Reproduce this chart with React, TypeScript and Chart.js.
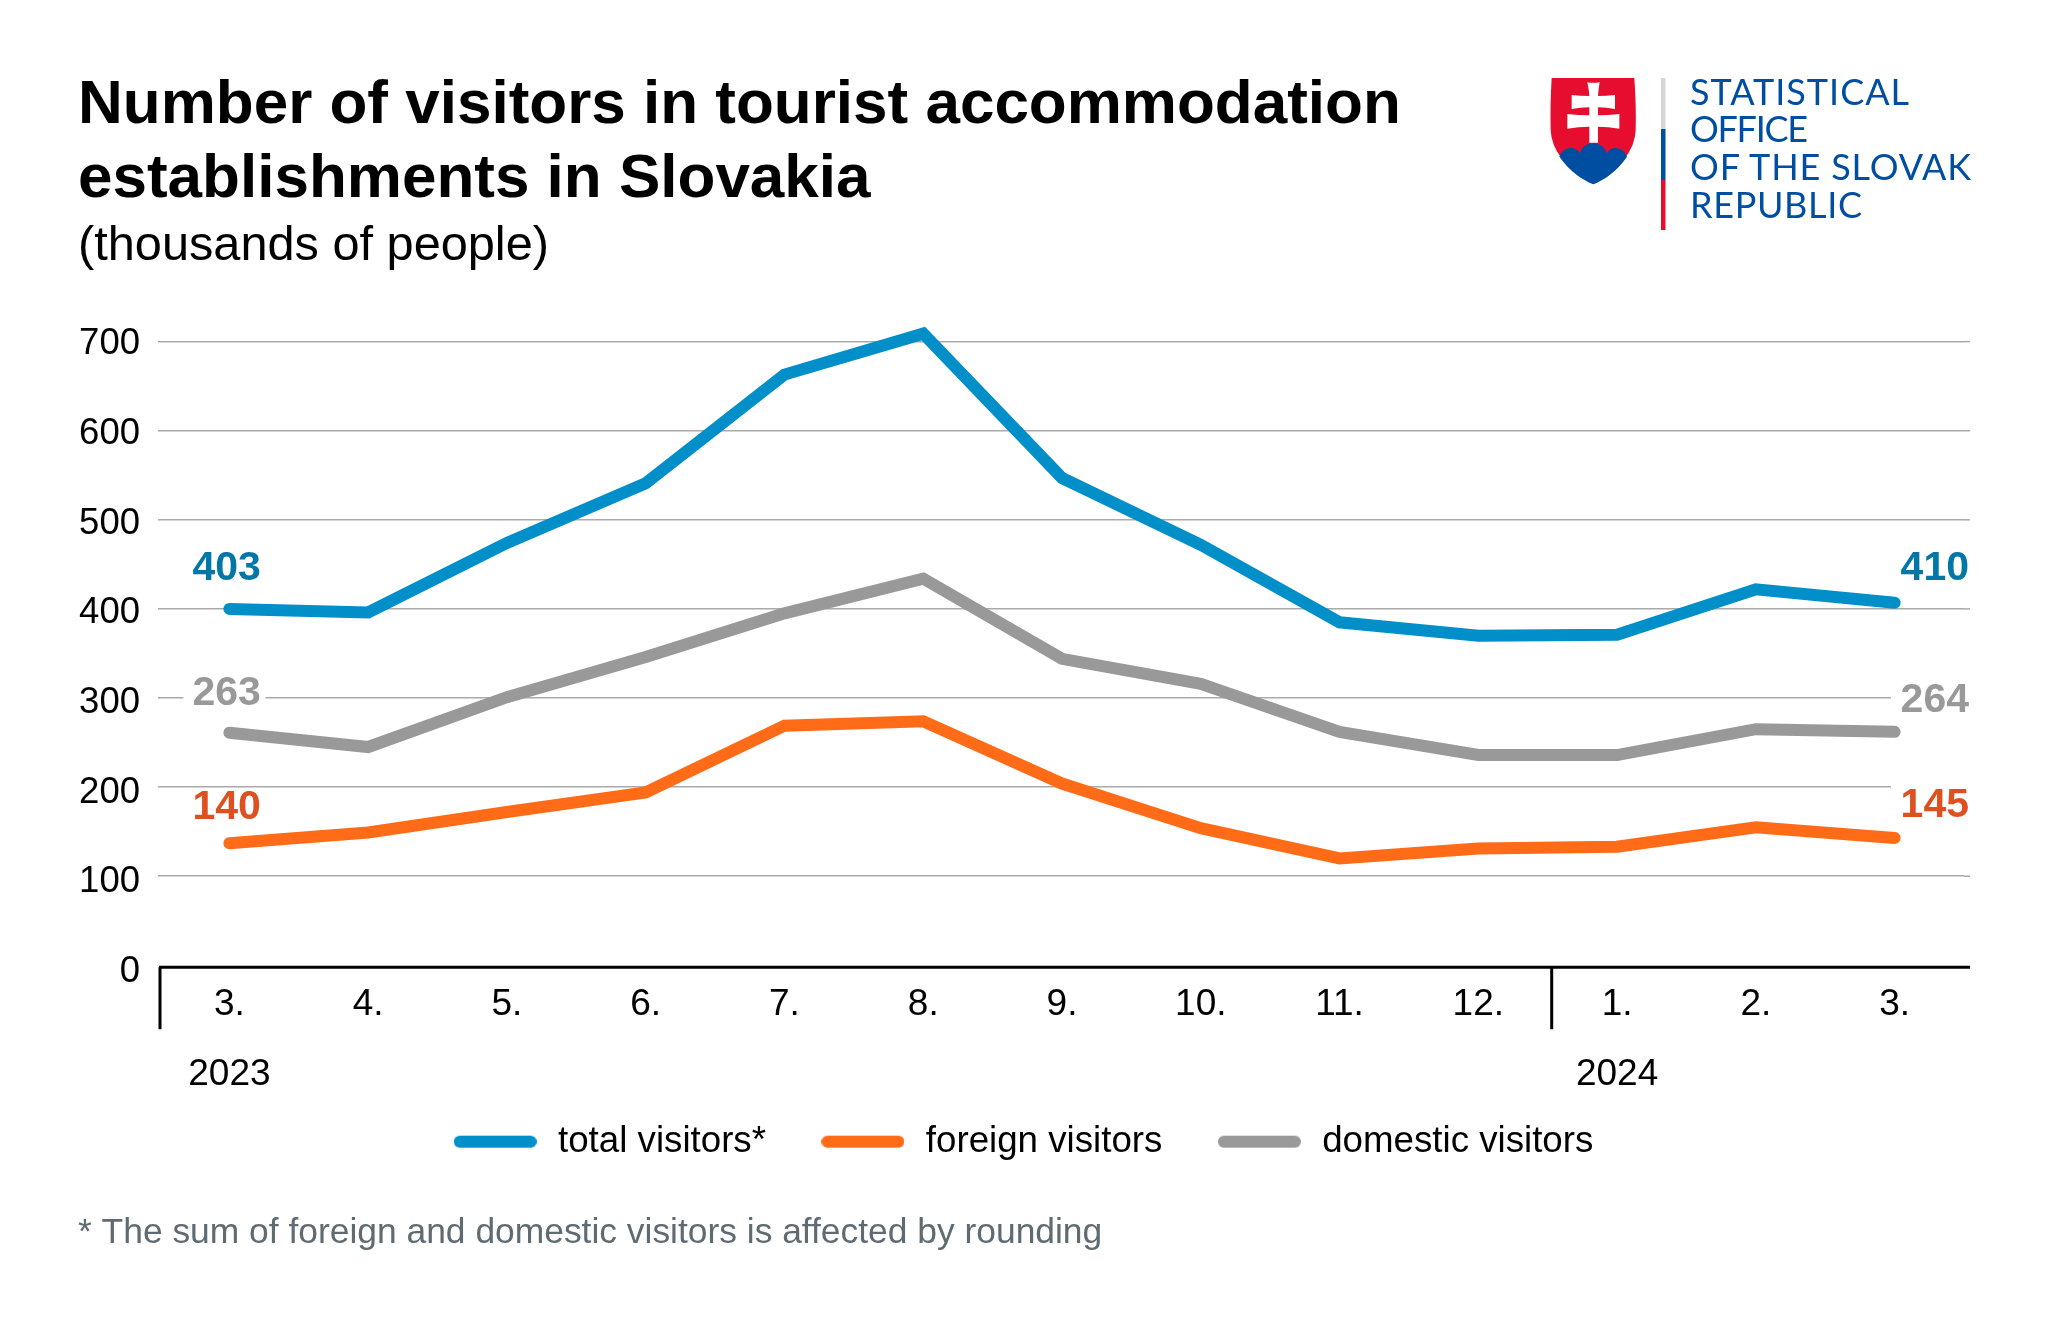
import React, { useEffect, useRef } from "react";
import { Chart, registerables } from "chart.js";

Chart.register(...registerables);

const months = ["3.", "4.", "5.", "6.", "7.", "8.", "9.", "10.", "11.", "12.", "1.", "2.", "3."];
const years = ["2023", "", "", "", "", "", "", "", "", "", "2024", "", ""];
const totalVisitors = [400, 396, 474, 541, 663, 709, 547, 472, 385, 370, 371, 422, 407];
const foreignVisitors = [137, 149, 172, 194, 269, 274, 204, 154, 120, 131, 133, 155, 143];
const domesticVisitors = [261, 245, 301, 346, 395, 434, 344, 316, 262, 236, 236, 265, 262];
const endLabels = [
  { series: 0, left: "403", right: "410", color: "#0077a7", leftDy: -40, rightDy: -33.8, box: false },
  { series: 2, left: "263", right: "264", color: "#999999", leftDy: -38.7, rightDy: -31.2, box: true },
  { series: 1, left: "140", right: "145", color: "#de5020", leftDy: -35.5, rightDy: -32.2, box: false },
];
const titleLines = ["Number of visitors in tourist accommodation", "establishments in Slovakia"];
const subtitleText = "(thousands of people)";
const footnote = "* The sum of foreign and domestic visitors is affected by rounding";
const logoLines = ["STATISTICAL", "OFFICE", "OF THE SLOVAK", "REPUBLIC"];

const FONT = '"Liberation Sans", Arial, sans-serif';
const COLORS = { total: "#008fc8", foreign: "#ff6b17", domestic: "#999999" };

function legendLine(color: string) {
  const c = document.createElement("canvas");
  c.width = 83;
  c.height = 14;
  const x = c.getContext("2d")!;
  x.strokeStyle = color;
  x.lineWidth = 12;
  x.lineCap = "round";
  x.beginPath();
  x.moveTo(6, 7);
  x.lineTo(77, 7);
  x.stroke();
  return c;
}

const decorations = {
  id: "decorations",
  afterLayout(chart: any) {
    // the legend sits inside the tall x-axis box's lower margin
    chart.legend.left += 1;
    chart.legend.right += 1;
    chart.legend.top -= 31.5;
    chart.legend.bottom -= 31.5;
  },
  beforeDatasetsDraw(chart: any) {
    const { ctx, chartArea, scales } = chart;
    const { x, y } = scales;
    ctx.save();
    // short extension of the grid lines past the last category band
    ctx.strokeStyle = "#aaaaaa";
    ctx.lineWidth = 1.5;
    y.ticks.forEach((t: any) => {
      if (t.value === 0) return;
      const py = y.getPixelForValue(t.value);
      ctx.beginPath();
      ctx.moveTo(chartArea.right, py);
      ctx.lineTo(chartArea.right + 6, py);
      ctx.stroke();
    });
    // axis line and period separators, set just under the value-axis zero
    const axisY = chartArea.bottom + 2;
    ctx.strokeStyle = "#000000";
    ctx.lineWidth = 3;
    ctx.beginPath();
    ctx.moveTo(chartArea.left - 1, axisY);
    ctx.lineTo(chartArea.right + 6, axisY);
    ctx.moveTo(chartArea.left, axisY);
    ctx.lineTo(chartArea.left, axisY + 62);
    const sep = x.getPixelForValue(9) + (x.getPixelForValue(10) - x.getPixelForValue(9)) / 2 + 4;
    ctx.moveTo(sep, axisY);
    ctx.lineTo(sep, axisY + 62);
    ctx.stroke();
    // end-of-series value labels
    ctx.font = `bold 41px ${FONT}`;
    ctx.textBaseline = "middle";
    const lastIndex = months.length - 1;
    const rightEdge = chartArea.right + 5;
    endLabels.forEach((l) => {
      const meta = chart.getDatasetMeta(l.series);
      const yl = meta.data[0].y + l.leftDy;
      const yr = meta.data[lastIndex].y + l.rightDy;
      const xl = meta.data[0].x - 37;
      ctx.fillStyle = "#ffffff";
      if (l.box) {
        ctx.fillRect(xl - 9, yl - 20, 82, 40);
        ctx.fillRect(rightEdge - 78, yr - 20, 90, 40);
      } else if (l.series === 1) {
        ctx.fillRect(rightEdge - 78, yr - 20, 90, 40);
      }
      ctx.fillStyle = l.color;
      ctx.textAlign = "left";
      ctx.fillText(l.left, xl, yl);
      ctx.textAlign = "right";
      ctx.fillText(l.right, rightEdge, yr);
    });
    ctx.restore();
  },
  afterDraw(chart: any) {
    const { ctx } = chart;
    ctx.save();
    ctx.font = `35.4px ${FONT}`;
    ctx.fillStyle = "#5f6b73";
    ctx.textAlign = "left";
    ctx.textBaseline = "middle";
    ctx.fillText(footnote, 78, 1233.5);
    ctx.restore();
  },
};

function Logo() {
  const s = 1 / 3;
  const yBase = [104.5, 142, 179.5, 218];
  const widths = [219, 118, 281, 172];
  return (
    <svg
      style={{ position: "absolute", left: 0, top: 0 }}
      width={2048}
      height={1319}
      viewBox="0 0 2048 1319"
    >
      <g transform={`translate(1500 50) scale(${s})`}>
        <path
          d="M155 84 L403 84 Q409 170 407 240 Q404 330 280 403 Q155 330 152 240 Q150 170 155 84 Z"
          fill="#e60d2e"
        />
        <path
          d="M178 320 C190 290 225 285 240 310 C250 270 310 270 320 310 C335 285 370 290 381 320 C350 365 315 388 280 403 C245 388 210 365 178 320 Z"
          fill="#004ea2"
        />
        <path
          d="M262 97 Q280 100 299 97 Q295 120 294 138 Q320 138 345 135 L345 177 Q320 172 294 172 L294 196 Q325 196 358 192 L358 236 Q325 230 294 230 L294 278 L268 278 L268 230 Q235 230 202 236 L202 192 Q235 196 268 196 L268 172 Q240 172 215 177 L215 135 Q240 138 268 138 Q267 120 262 97 Z"
          fill="#ffffff"
        />
      </g>
      <rect x={1661} y={78} width={4.5} height={51} fill="#d4d6d7" />
      <rect x={1661} y={129} width={4.5} height={51} fill="#004ea2" />
      <rect x={1661} y={180} width={4.5} height={50} fill="#e60d2e" />
      {logoLines.map((t, i) => (
        <text
          key={t}
          x={1690}
          y={yBase[i]}
          textLength={widths[i]}
          lengthAdjust="spacing"
          fill="#004ea2"
          style={{ font: '36px Lato, "Open Sans", sans-serif' }}
        >
          {t}
        </text>
      ))}
    </svg>
  );
}

export default function App() {
  const ref = useRef<HTMLCanvasElement | null>(null);
  useEffect(() => {
    const chart = new Chart(ref.current!, {
      type: "line",
      data: {
        labels: months.map((m, i) => (years[i] ? [m, years[i]] : m)),
        datasets: [
          { label: "total visitors*", data: totalVisitors, borderColor: COLORS.total, backgroundColor: COLORS.total },
          { label: "foreign visitors", data: foreignVisitors, borderColor: COLORS.foreign, backgroundColor: COLORS.foreign },
          { label: "domestic visitors", data: domesticVisitors, borderColor: COLORS.domestic, backgroundColor: COLORS.domestic },
        ].map((d) => ({
          ...d,
          borderWidth: 12,
          borderCapStyle: "round",
          borderJoinStyle: "miter",
          pointRadius: 0,
          tension: 0,
          clip: false,
        })) as any,
      },
      options: {
        animation: false,
        responsive: false,
        layout: { padding: { left: 78, right: 84, top: 68.5, bottom: 117.5 } },
        plugins: {
          tooltip: { enabled: false },
          title: {
            display: true,
            text: titleLines,
            align: "start",
            color: "#000000",
            font: { family: FONT, size: 62, weight: "bold", lineHeight: 1.2 },
            padding: { top: 0, bottom: 0.3 },
          },
          subtitle: {
            display: true,
            text: subtitleText,
            align: "start",
            color: "#000000",
            font: { family: FONT, size: 48.7, lineHeight: 1.2 },
            padding: { top: 0, bottom: 65.6 },
          },
          legend: {
            position: "bottom",
            labels: {
              usePointStyle: true,
              pointStyleWidth: 89,
              padding: 52.5,
              color: "#000000",
              font: { family: FONT, size: 36.7 },
              generateLabels: (c: any) =>
                [0, 1, 2].map((i) => ({
                  text: c.data.datasets[i].label,
                  datasetIndex: i,
                  pointStyle: legendLine(c.data.datasets[i].borderColor),
                  fillStyle: c.data.datasets[i].borderColor,
                  strokeStyle: c.data.datasets[i].borderColor,
                  fontColor: "#000000",
                  lineWidth: 0,
                })),
            },
          },
        },
        scales: {
          x: {
            offset: true,
            border: { display: false },
            grid: { display: false },
            ticks: {
              color: "#000000",
              maxRotation: 0,
              autoSkip: false,
              padding: -3.5,
              font: { family: FONT, size: 37, lineHeight: 1.9 },
            },
            afterFit: (s: any) => {
              s.height = 137;
            },
          },
          y: {
            min: 0,
            max: 700,
            border: { display: false },
            grid: {
              color: (c: any) => (c.tick.value === 0 ? "transparent" : "#aaaaaa"),
              lineWidth: 1.5,
              drawTicks: true,
              tickLength: 2,
              tickColor: (c: any) => (c.tick.value === 0 ? "transparent" : "#aaaaaa"),
            },
            ticks: {
              stepSize: 100,
              color: "#000000",
              padding: 18,
              // an empty first line nudges each label down: the reference's labels
              // are spaced slightly wider than its grid lines
              callback: (v: any) => ["", String(v)],
              font: (c: any) => ({
                family: FONT,
                size: 36.5,
                lineHeight: `${2 * (2.6 + ((700 - (c.tick ? c.tick.value : 700)) / 700) * 3.9)}px`,
              }),
            },
            afterFit: (s: any) => {
              s.width = 82;
            },
          },
        },
      },
      plugins: [decorations],
    } as any);
    return () => chart.destroy();
  }, []);
  return (
    <div style={{ position: "absolute", left: 0, top: 0, width: 2048, height: 1319, background: "#fff", overflow: "hidden" }}>
      <canvas ref={ref} width={2048} height={1319} style={{ display: "block" }} />
      <Logo />
    </div>
  );
}
